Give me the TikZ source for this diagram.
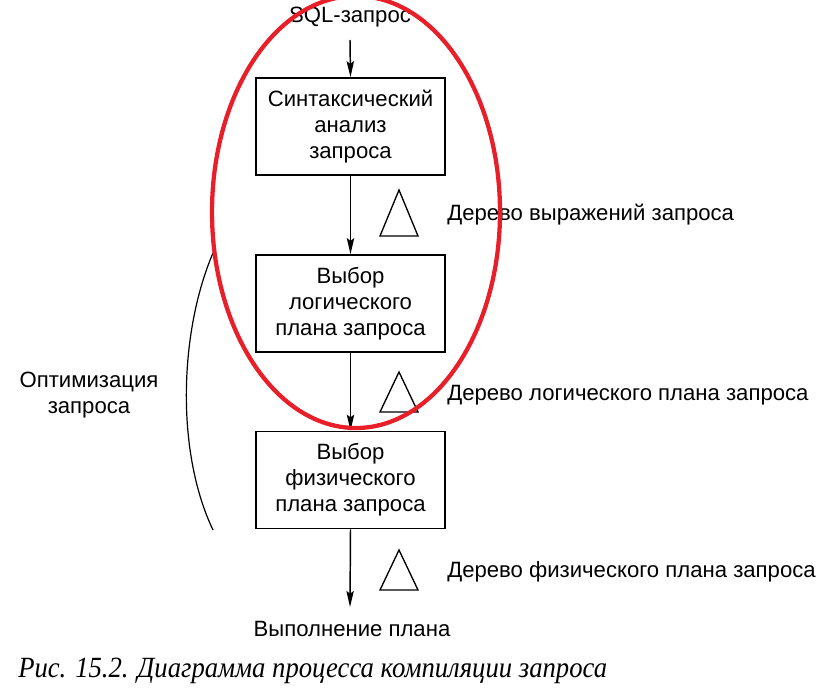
\documentclass[tikz,border=0pt]{standalone}
\usepackage{fontspec}
\setmainfont{Liberation Sans}
\newfontfamily\capfont{Liberation Serif}
\usetikzlibrary{arrows.meta}
\definecolor{ovalred}{RGB}{232,30,40}
\begin{document}
\begin{tikzpicture}[x=0.75pt,y=-0.75pt,
  every node/.style={font=\fontsize{16.6}{19.5}\selectfont, inner sep=0pt},
  stagebox/.style={draw, line width=1.2pt, minimum width=141.75pt, minimum height=72.75pt, align=center},
  flow/.style={line width=1.1pt, -{Stealth[length=12pt,width=5.5pt,inset=2pt]}},
  tri/.style={line width=1pt},
  lbl/.style={anchor=west}]
\useasboundingbox (0,0) rectangle (825,689);
\node (sql) at (350,17) {SQL-запрос};
\node[stagebox] (b1) at (350.5,126.5) {Синтаксический\\анализ\\запроса};
\node[stagebox] (b2) at (350.5,303.5) {Выбор\\логического\\плана запроса};
\node[stagebox] (b3) at (350.5,480) {Выбор\\физического\\плана запроса};
\node (exec) at (352,629) {Выполнение плана};
\coordinate (s0) at (350,40);
\coordinate (e0) at (350,607);
\draw[flow] (s0) -- (b1.north);
\draw[flow] (b1) -- (b2);
\draw[flow] (b2) -- (b3);
\draw[flow] (b3.south) -- (e0);
\draw[tri] (399,190) -- (380,236) -- (418,236) -- cycle;
\draw[tri] (399,372) -- (380,412) -- (418,412) -- cycle;
\draw[tri] (399,550) -- (380,590) -- (418,590) -- cycle;
\node[lbl] (t1) at (447,215) {Дерево выражений запроса};
\node[lbl] (t2) at (447,395) {Дерево логического плана запроса};
\node[lbl] (t3) at (447,572) {Дерево физического плана запроса};
\node[align=center] (opt) at (89,395) {Оптимизация\\запроса};
\draw[line width=0.9pt] (213,253) .. controls (180,330) and (175,450) .. (213,530);
\draw[ovalred, line width=3.2pt] (356,212) ellipse [x radius=144, y radius=216];
\node[anchor=west, font=\capfont\itshape\fontsize{20}{22}\selectfont, yscale=1.1] (cap) at (18,671) {Рис. 15.2. Диаграмма процесса компиляции запроса};
\end{tikzpicture}
\end{document}
